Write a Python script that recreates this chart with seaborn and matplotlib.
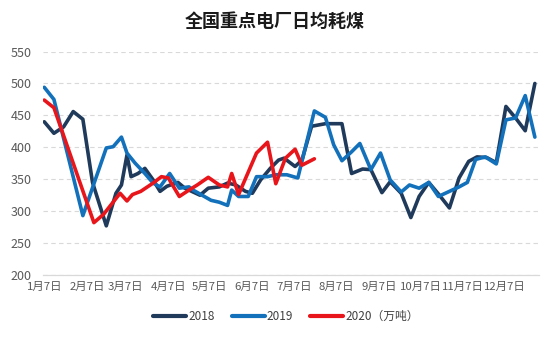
import matplotlib
matplotlib.use("Agg")
import matplotlib.pyplot as plt
import pandas as pd
import seaborn as sns

# ---------------- data ----------------
title = "全国重点电厂日均耗煤"
tick_labels = ["1月7日", "2月7日", "3月7日", "4月7日", "5月7日", "6月7日",
               "7月7日", "8月7日", "9月7日", "10月7日", "11月7日", "12月7日"]
tick_dates = ["01-07", "02-07", "03-07", "04-07", "05-07", "06-07",
              "07-07", "08-07", "09-07", "10-07", "11-07", "12-07"]
series_names = ["2018", "2019", "2020（万吨）"]

dates_2018 = ["01-07", "01-14", "01-21", "01-28", "02-04", "02-11", "02-21", "02-28",
              "03-04", "03-08", "03-11", "03-16", "03-21", "03-27", "04-01", "04-06",
              "04-14", "04-19", "04-30", "05-06", "05-14", "05-20", "05-26", "06-02",
              "06-07", "06-13", "06-20", "06-26", "06-30", "07-08", "07-13", "07-20",
              "07-30", "08-11", "08-18", "08-26", "09-01", "09-09", "09-15", "09-23",
              "09-30", "10-06", "10-13", "10-20", "10-28", "11-04", "11-11", "11-17",
              "11-24", "12-01", "12-08", "12-15", "12-22", "12-29"]
values_2018 = [440, 422, 432, 456, 444, 345, 277, 328,
               341, 388, 354, 359, 367, 349, 331, 339,
               345, 336, 325, 336, 338, 344, 341, 331,
               328, 349, 367, 380, 383, 370, 380, 433,
               437, 437, 359, 366, 365, 329, 346, 328,
               290, 323, 345, 327, 305, 352, 378, 385,
               384, 376, 464, 446, 426, 500]

dates_2019 = ["01-07", "01-14", "02-04", "02-21", "02-26", "03-04", "03-08", "03-14",
              "03-21", "03-27", "04-01", "04-08", "04-15", "04-22", "04-25", "05-08",
              "05-14", "05-20", "05-23", "05-28", "06-04", "06-10", "06-18", "06-24",
              "07-02", "07-10", "07-22", "07-30", "08-05", "08-11", "08-18", "08-24",
              "09-01", "09-08", "09-15", "09-23", "09-29", "10-06", "10-13", "10-20",
              "10-28", "11-04", "11-10", "11-16", "11-23", "12-01", "12-08", "12-15",
              "12-22", "12-29"]
values_2019 = [494, 475, 293, 399, 401, 416, 391, 375,
               359, 344, 338, 359, 336, 338, 333, 317,
               314, 309, 333, 323, 323, 354, 354, 357,
               357, 352, 457, 447, 404, 379, 393, 406,
               365, 391, 349, 330, 341, 336, 345, 323,
               331, 338, 345, 381, 385, 374, 443, 446,
               481, 416]

dates_2020 = ["01-07", "01-14", "02-12", "02-19", "03-03", "03-08", "03-12", "03-18",
              "03-27", "04-02", "04-07", "04-15", "04-22", "04-28", "05-06", "05-14",
              "05-20", "05-23", "05-28", "06-03", "06-10", "06-18", "06-24", "07-01",
              "07-08", "07-13", "07-22"]
values_2020 = [474, 462, 282, 295, 328, 316, 326, 331,
               344, 354, 352, 323, 333, 341, 353, 341,
               338, 359, 326, 356, 391, 408, 343, 383,
               397, 372, 382]

colors = ["#1F3A5A", "#1271BA", "#E8151B"]

# ---------------- build table ----------------
base = pd.Timestamp("2019-01-07")


def day_offset(md):
    return (pd.Timestamp("2019-" + md) - base).days


frames = []
for name, ds, vs in zip(series_names,
                        [dates_2018, dates_2019, dates_2020],
                        [values_2018, values_2019, values_2020]):
    frames.append(pd.DataFrame({"day": [day_offset(d) for d in ds],
                                "value": vs, "series": name}))
df = pd.concat(frames, ignore_index=True)

# ---------------- plot ----------------
sns.set_theme(style="white")
plt.rcParams["font.family"] = ["Noto Sans CJK SC", "DejaVu Sans"]

fig = plt.figure(figsize=(5.5, 3.37), dpi=100)
ax = fig.add_axes([0.078, 0.184, 0.902, 0.663])

sns.lineplot(data=df, x="day", y="value", hue="series", hue_order=series_names,
             palette=colors, linewidth=2.6, estimator=None, sort=False,
             ax=ax, legend=True)

ax.set_ylim(200, 550)
ax.set_yticks([200, 250, 300, 350, 400, 450, 500, 550])
ax.set_xlim(-1, 359)
ax.set_xticks([day_offset(d) for d in tick_dates])
ax.set_xticklabels(tick_labels)
ax.set_xlabel("")
ax.set_ylabel("")

ax.grid(axis="y", color="#D9D9D9", linestyle=(0, (4, 3)), linewidth=0.8)
ax.set_axisbelow(True)
for s in ["top", "right", "left"]:
    ax.spines[s].set_visible(False)
ax.spines["bottom"].set_color("#D9D9D9")
ax.spines["bottom"].set_linewidth(0.9)
ax.tick_params(axis="both", length=0, labelsize=8.2, colors="#595959")
ax.tick_params(axis="y", pad=8, labelsize=9)
ax.tick_params(axis="x", pad=5)

fig.suptitle(title, x=0.5, y=0.965, fontsize=13, fontweight="bold", color="#1a1a1a")

handles, labels = ax.get_legend_handles_labels()
ax.legend_.remove()
for h in handles:
    h.set_linewidth(3)
fig.legend(handles, labels, loc="center", bbox_to_anchor=(0.52, 0.06), ncol=3,
           frameon=False, fontsize=8.5, handlelength=2.8, handletextpad=0.2,
           columnspacing=1.4, labelcolor="#404040")

fig.savefig("out.png", dpi=100)
